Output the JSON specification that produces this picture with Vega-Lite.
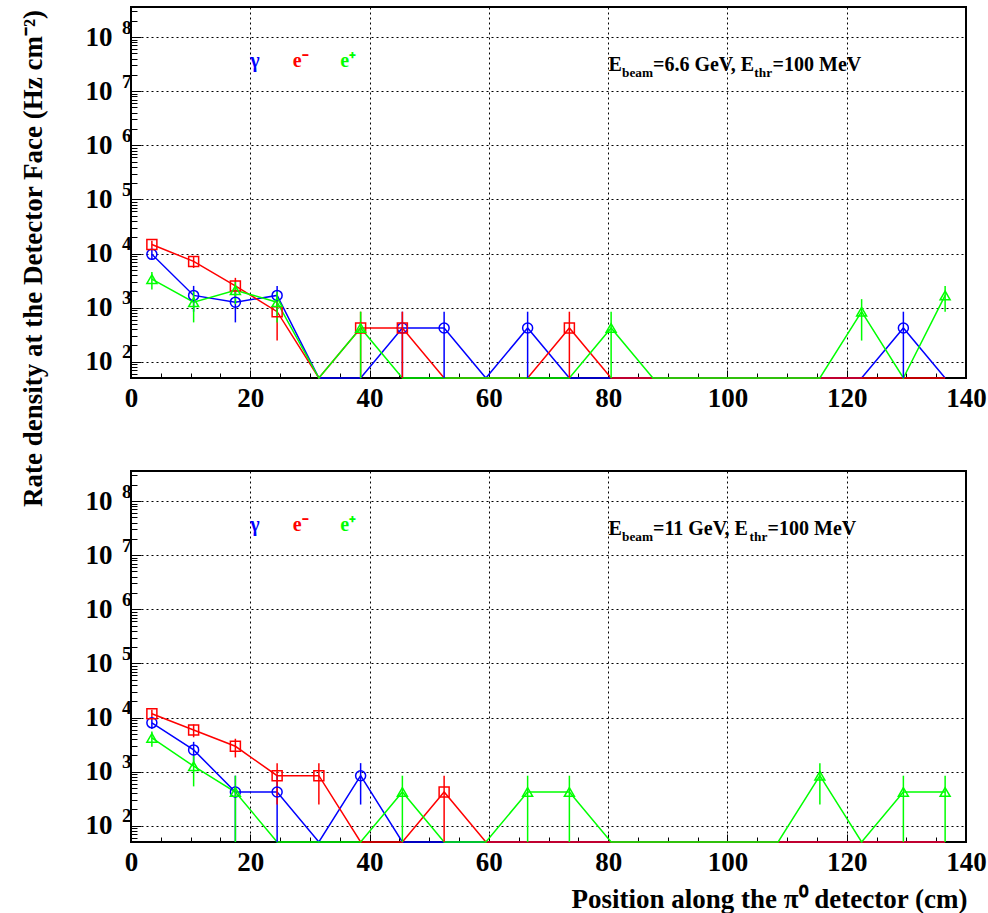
{
  "$schema": "https://vega.github.io/schema/vega-lite/v6.json",
  "autosize": {"type": "none"},
  "padding": {"left": 131, "top": 7, "right": 857, "bottom": 906},
  "bounds": "flush",
  "spacing": 93,
  "config": {
    "view": {"stroke": "#000000", "strokeWidth": 2},
    "font": "Liberation Serif"
  },
  "datasets": {
    "rates": [
      {"beam":"6.6","particle":"γ","position":3.5,"rate":9660,"low":7646,"high":11674},
      {"beam":"6.6","particle":"γ","position":10.5,"rate":1680,"low":840,"high":2520},
      {"beam":"6.6","particle":"γ","position":17.5,"rate":1260,"low":533,"high":1987},
      {"beam":"6.6","particle":"γ","position":24.5,"rate":1680,"low":840,"high":2520},
      {"beam":"6.6","particle":"γ","position":31.5,"rate":0},
      {"beam":"6.6","particle":"γ","position":38.5,"rate":0},
      {"beam":"6.6","particle":"γ","position":45.5,"rate":420,"low":0,"high":840},
      {"beam":"6.6","particle":"γ","position":52.5,"rate":420,"low":0,"high":840},
      {"beam":"6.6","particle":"γ","position":59.5,"rate":0},
      {"beam":"6.6","particle":"γ","position":66.5,"rate":420,"low":0,"high":840},
      {"beam":"6.6","particle":"γ","position":73.5,"rate":0},
      {"beam":"6.6","particle":"γ","position":80.5,"rate":0},
      {"beam":"6.6","particle":"γ","position":87.5,"rate":0},
      {"beam":"6.6","particle":"γ","position":94.5,"rate":0},
      {"beam":"6.6","particle":"γ","position":101.5,"rate":0},
      {"beam":"6.6","particle":"γ","position":108.5,"rate":0},
      {"beam":"6.6","particle":"γ","position":115.5,"rate":0},
      {"beam":"6.6","particle":"γ","position":122.5,"rate":0},
      {"beam":"6.6","particle":"γ","position":129.5,"rate":420,"low":0,"high":840},
      {"beam":"6.6","particle":"γ","position":136.5,"rate":0},
      {"beam":"6.6","particle":"e-","position":3.5,"rate":14700,"low":12215,"high":17185},
      {"beam":"6.6","particle":"e-","position":10.5,"rate":7140,"low":5408,"high":8872},
      {"beam":"6.6","particle":"e-","position":17.5,"rate":2520,"low":1491,"high":3549},
      {"beam":"6.6","particle":"e-","position":24.5,"rate":840,"low":246,"high":1434},
      {"beam":"6.6","particle":"e-","position":31.5,"rate":0},
      {"beam":"6.6","particle":"e-","position":38.5,"rate":420,"low":0,"high":840},
      {"beam":"6.6","particle":"e-","position":45.5,"rate":420,"low":0,"high":840},
      {"beam":"6.6","particle":"e-","position":52.5,"rate":0},
      {"beam":"6.6","particle":"e-","position":59.5,"rate":0},
      {"beam":"6.6","particle":"e-","position":66.5,"rate":0},
      {"beam":"6.6","particle":"e-","position":73.5,"rate":420,"low":0,"high":840},
      {"beam":"6.6","particle":"e-","position":80.5,"rate":0},
      {"beam":"6.6","particle":"e-","position":87.5,"rate":0},
      {"beam":"6.6","particle":"e-","position":94.5,"rate":0},
      {"beam":"6.6","particle":"e-","position":101.5,"rate":0},
      {"beam":"6.6","particle":"e-","position":108.5,"rate":0},
      {"beam":"6.6","particle":"e-","position":115.5,"rate":0},
      {"beam":"6.6","particle":"e-","position":122.5,"rate":0},
      {"beam":"6.6","particle":"e-","position":129.5,"rate":0},
      {"beam":"6.6","particle":"e-","position":136.5,"rate":0},
      {"beam":"6.6","particle":"e+","position":3.5,"rate":3360,"low":2172,"high":4548},
      {"beam":"6.6","particle":"e+","position":10.5,"rate":1260,"low":533,"high":1987},
      {"beam":"6.6","particle":"e+","position":17.5,"rate":2100,"low":1161,"high":3039},
      {"beam":"6.6","particle":"e+","position":24.5,"rate":1260,"low":533,"high":1987},
      {"beam":"6.6","particle":"e+","position":31.5,"rate":0},
      {"beam":"6.6","particle":"e+","position":38.5,"rate":420,"low":0,"high":840},
      {"beam":"6.6","particle":"e+","position":45.5,"rate":0},
      {"beam":"6.6","particle":"e+","position":52.5,"rate":0},
      {"beam":"6.6","particle":"e+","position":59.5,"rate":0},
      {"beam":"6.6","particle":"e+","position":66.5,"rate":0},
      {"beam":"6.6","particle":"e+","position":73.5,"rate":0},
      {"beam":"6.6","particle":"e+","position":80.5,"rate":420,"low":0,"high":840},
      {"beam":"6.6","particle":"e+","position":87.5,"rate":0},
      {"beam":"6.6","particle":"e+","position":94.5,"rate":0},
      {"beam":"6.6","particle":"e+","position":101.5,"rate":0},
      {"beam":"6.6","particle":"e+","position":108.5,"rate":0},
      {"beam":"6.6","particle":"e+","position":115.5,"rate":0},
      {"beam":"6.6","particle":"e+","position":122.5,"rate":840,"low":246,"high":1434},
      {"beam":"6.6","particle":"e+","position":129.5,"rate":0},
      {"beam":"6.6","particle":"e+","position":136.5,"rate":1680,"low":840,"high":2520},
      {"beam":"11","particle":"γ","position":3.5,"rate":7980,"low":6149,"high":9811},
      {"beam":"11","particle":"γ","position":10.5,"rate":2520,"low":1491,"high":3549},
      {"beam":"11","particle":"γ","position":17.5,"rate":420,"low":0,"high":840},
      {"beam":"11","particle":"γ","position":24.5,"rate":420,"low":0,"high":840},
      {"beam":"11","particle":"γ","position":31.5,"rate":0},
      {"beam":"11","particle":"γ","position":38.5,"rate":840,"low":246,"high":1434},
      {"beam":"11","particle":"γ","position":45.5,"rate":0},
      {"beam":"11","particle":"γ","position":52.5,"rate":0},
      {"beam":"11","particle":"γ","position":59.5,"rate":0},
      {"beam":"11","particle":"γ","position":66.5,"rate":0},
      {"beam":"11","particle":"γ","position":73.5,"rate":0},
      {"beam":"11","particle":"γ","position":80.5,"rate":0},
      {"beam":"11","particle":"γ","position":87.5,"rate":0},
      {"beam":"11","particle":"γ","position":94.5,"rate":0},
      {"beam":"11","particle":"γ","position":101.5,"rate":0},
      {"beam":"11","particle":"γ","position":108.5,"rate":0},
      {"beam":"11","particle":"γ","position":115.5,"rate":0},
      {"beam":"11","particle":"γ","position":122.5,"rate":0},
      {"beam":"11","particle":"γ","position":129.5,"rate":0},
      {"beam":"11","particle":"γ","position":136.5,"rate":0},
      {"beam":"11","particle":"e-","position":3.5,"rate":11760,"low":9537,"high":13983},
      {"beam":"11","particle":"e-","position":10.5,"rate":5880,"low":4308,"high":7452},
      {"beam":"11","particle":"e-","position":17.5,"rate":2940,"low":1829,"high":4051},
      {"beam":"11","particle":"e-","position":24.5,"rate":840,"low":246,"high":1434},
      {"beam":"11","particle":"e-","position":31.5,"rate":840,"low":246,"high":1434},
      {"beam":"11","particle":"e-","position":38.5,"rate":0},
      {"beam":"11","particle":"e-","position":45.5,"rate":0},
      {"beam":"11","particle":"e-","position":52.5,"rate":420,"low":0,"high":840},
      {"beam":"11","particle":"e-","position":59.5,"rate":0},
      {"beam":"11","particle":"e-","position":66.5,"rate":0},
      {"beam":"11","particle":"e-","position":73.5,"rate":0},
      {"beam":"11","particle":"e-","position":80.5,"rate":0},
      {"beam":"11","particle":"e-","position":87.5,"rate":0},
      {"beam":"11","particle":"e-","position":94.5,"rate":0},
      {"beam":"11","particle":"e-","position":101.5,"rate":0},
      {"beam":"11","particle":"e-","position":108.5,"rate":0},
      {"beam":"11","particle":"e-","position":115.5,"rate":0},
      {"beam":"11","particle":"e-","position":122.5,"rate":0},
      {"beam":"11","particle":"e-","position":129.5,"rate":0},
      {"beam":"11","particle":"e-","position":136.5,"rate":0},
      {"beam":"11","particle":"e+","position":3.5,"rate":4200,"low":2872,"high":5528},
      {"beam":"11","particle":"e+","position":10.5,"rate":1260,"low":533,"high":1987},
      {"beam":"11","particle":"e+","position":17.5,"rate":420,"low":0,"high":840},
      {"beam":"11","particle":"e+","position":24.5,"rate":0},
      {"beam":"11","particle":"e+","position":31.5,"rate":0},
      {"beam":"11","particle":"e+","position":38.5,"rate":0},
      {"beam":"11","particle":"e+","position":45.5,"rate":420,"low":0,"high":840},
      {"beam":"11","particle":"e+","position":52.5,"rate":0},
      {"beam":"11","particle":"e+","position":59.5,"rate":0},
      {"beam":"11","particle":"e+","position":66.5,"rate":420,"low":0,"high":840},
      {"beam":"11","particle":"e+","position":73.5,"rate":420,"low":0,"high":840},
      {"beam":"11","particle":"e+","position":80.5,"rate":0},
      {"beam":"11","particle":"e+","position":87.5,"rate":0},
      {"beam":"11","particle":"e+","position":94.5,"rate":0},
      {"beam":"11","particle":"e+","position":101.5,"rate":0},
      {"beam":"11","particle":"e+","position":108.5,"rate":0},
      {"beam":"11","particle":"e+","position":115.5,"rate":840,"low":246,"high":1434},
      {"beam":"11","particle":"e+","position":122.5,"rate":0},
      {"beam":"11","particle":"e+","position":129.5,"rate":420,"low":0,"high":840},
      {"beam":"11","particle":"e+","position":136.5,"rate":420,"low":0,"high":840}
    ]
  },
  "vconcat": [
    {
      "width": 835, "height": 371,
      "resolve": {"axis": {"x": "independent", "y": "independent"}},
      "layer": [
        {
          "data": {"name": "rates"},
          "transform": [{"filter": "datum.beam == '6.6'"}],
          "mark": {"type": "line", "strokeWidth": 1.5},
          "encoding": {
            "x": {"field": "position", "type": "quantitative", "scale": {"domain": [0, 140], "nice": false, "zero": false},
              "axis": {"orient": "bottom", "values": [0, 20, 40, 60, 80, 100, 120, 140], "format": "d", "ticks": false, "domain": false, "grid": true, "gridColor": "#000000", "gridDash": [2, 3], "gridWidth": 1, "gridOpacity": 1, "labelFont": "Liberation Serif", "labelFontWeight": "bold", "labelFontSize": 27, "labelColor": "#000000", "labelPadding": 7, "labelFlush": false, "labelOverlap": false, "title": null}},
            "y": {"field": "rate", "type": "quantitative", "scale": {"type": "log", "domain": [50, 360000000], "nice": false, "clamp": true},
              "axis": {"orient": "left", "values": [100, 1000, 10000, 100000, 1000000, 10000000, 100000000], "labelExpr": "'10'", "ticks": false, "domain": false, "grid": true, "gridColor": "#000000", "gridDash": [2, 3], "gridWidth": 1, "gridOpacity": 1, "labelFont": "Liberation Serif", "labelFontWeight": "bold", "labelFontSize": 27, "labelColor": "#000000", "labelPadding": 19, "labelOverlap": false, "labelFlush": false,
                "title": "Rate density at the Detector Face (Hz cm⁻²)", "titleFont": "Liberation Serif", "titleFontWeight": "bold", "titleFontSize": 27, "titleColor": "#000000", "titleX": -98, "titleY": 251, "titleAngle": -90, "titleAlign": "center", "titleBaseline": "middle"}},
            "color": {"field": "particle", "type": "nominal", "scale": {"domain": ["γ", "e-", "e+"], "range": ["#0000ff", "#ff0000", "#00ff00"]}, "legend": null}
          }
        },
        {
          "data": {"name": "rates"},
          "transform": [{"filter": "datum.beam == '6.6'"}, {"filter": "datum.high > 0"}],
          "mark": {"type": "rule", "strokeWidth": 1.5},
          "encoding": {
            "x": {"field": "position", "type": "quantitative", "scale": {"domain": [0, 140], "nice": false, "zero": false},
              "axis": {"orient": "bottom", "values": [20, 40, 60, 80, 100, 120], "labels": false, "ticks": true, "tickSize": -8, "tickColor": "#000000", "tickWidth": 1, "domain": false, "grid": false, "title": null}},
            "y": {"field": "low", "type": "quantitative", "scale": {"type": "log", "domain": [50, 360000000], "nice": false, "clamp": true},
              "axis": {"orient": "left", "values": [100, 1000, 10000, 100000, 1000000, 10000000, 100000000], "labels": false, "ticks": true, "tickSize": -10, "tickColor": "#000000", "tickWidth": 1, "domain": false, "grid": false, "title": null}},
            "y2": {"field": "high"},
            "color": {"field": "particle", "type": "nominal", "scale": {"domain": ["γ", "e-", "e+"], "range": ["#0000ff", "#ff0000", "#00ff00"]}, "legend": null}
          }
        },
        {
          "data": {"name": "rates"},
          "transform": [{"filter": "datum.beam == '6.6'"}, {"filter": "datum.rate > 0"}],
          "mark": {"type": "point", "filled": false, "strokeWidth": 1.5, "size": 100, "opacity": 1},
          "encoding": {
            "x": {"field": "position", "type": "quantitative", "scale": {"domain": [0, 140], "nice": false, "zero": false},
              "axis": {"orient": "bottom", "values": [5, 10, 15, 25, 30, 35, 45, 50, 55, 65, 70, 75, 85, 90, 95, 105, 110, 115, 125, 130, 135], "labels": false, "ticks": true, "tickSize": -5, "tickColor": "#000000", "tickWidth": 1, "domain": false, "grid": false, "title": null}},
            "y": {"field": "rate", "type": "quantitative", "scale": {"type": "log", "domain": [50, 360000000], "nice": false, "clamp": true},
              "axis": {"orient": "left", "values": [60, 70, 80, 90, 200, 300, 400, 500, 600, 700, 800, 900, 2000, 3000, 4000, 5000, 6000, 7000, 8000, 9000, 20000, 30000, 40000, 50000, 60000, 70000, 80000, 90000, 200000, 300000, 400000, 500000, 600000, 700000, 800000, 900000, 2000000, 3000000, 4000000, 5000000, 6000000, 7000000, 8000000, 9000000, 20000000, 30000000, 40000000, 50000000, 60000000, 70000000, 80000000, 90000000, 200000000, 300000000], "labels": false, "ticks": true, "tickSize": -6, "tickColor": "#000000", "tickWidth": 1, "domain": false, "grid": false, "title": null}},
            "color": {"field": "particle", "type": "nominal", "scale": {"domain": ["γ", "e-", "e+"], "range": ["#0000ff", "#ff0000", "#00ff00"]}, "legend": null},
            "shape": {"field": "particle", "type": "nominal", "scale": {"domain": ["γ", "e-", "e+"], "range": ["circle", "square", "triangle-up"]}, "legend": null}
          }
        },
        {
          "data": {"values": [{}]},
          "mark": {"type": "text", "text": "γ", "align": "left", "baseline": "alphabetic", "font": "Liberation Serif", "fontWeight": "bold", "fontSize": 20, "color": "#0000ff"},
          "encoding": {
            "x": {"datum": 20.0, "type": "quantitative", "scale": {"domain": [0, 140], "nice": false, "zero": false}, "axis": null},
            "y": {"datum": 28500000, "type": "quantitative", "scale": {"type": "log", "domain": [50, 360000000], "nice": false, "clamp": true},
              "axis": {"orient": "left", "values": [100, 1000, 10000, 100000, 1000000, 10000000, 100000000], "labelExpr": "'' + round(log(datum.value) / LN10)", "ticks": false, "domain": false, "grid": false, "labelFont": "Liberation Serif", "labelFontWeight": "bold", "labelFontSize": 19, "labelColor": "#000000", "labelPadding": 0, "labelOffset": -10, "labelOverlap": false, "labelFlush": false, "title": null}}
          }
        },
        {
          "data": {"values": [{}]},
          "mark": {"type": "text", "text": "e⁻", "align": "left", "baseline": "alphabetic", "font": "Liberation Serif", "fontWeight": "bold", "fontSize": 20, "color": "#ff0000"},
          "encoding": {
            "x": {"datum": 27.1, "type": "quantitative", "axis": null},
            "y": {"datum": 28500000, "type": "quantitative", "axis": null}
          }
        },
        {
          "data": {"values": [{}]},
          "mark": {"type": "text", "text": "e⁺", "align": "left", "baseline": "alphabetic", "font": "Liberation Serif", "fontWeight": "bold", "fontSize": 20, "color": "#00ff00"},
          "encoding": {
            "x": {"datum": 35.1, "type": "quantitative", "axis": null},
            "y": {"datum": 28500000, "type": "quantitative", "axis": null}
          }
        },
        {
          "data": {"values": [{}]},
          "mark": {"type": "text", "text": "E", "align": "left", "baseline": "alphabetic", "font": "Liberation Serif", "fontWeight": "bold", "fontSize": 20, "color": "#000000"},
          "encoding": {"x": {"datum": 80.08, "type": "quantitative", "axis": null}, "y": {"datum": 23500000, "type": "quantitative", "axis": null}}
        },
        {
          "data": {"values": [{}]},
          "mark": {"type": "text", "text": "beam", "align": "left", "baseline": "alphabetic", "font": "Liberation Serif", "fontWeight": "bold", "fontSize": 13.3, "color": "#000000", "dx": 13.4, "dy": 5.7},
          "encoding": {"x": {"datum": 80.08, "type": "quantitative", "axis": null}, "y": {"datum": 23500000, "type": "quantitative", "axis": null}}
        },
        {
          "data": {"values": [{}]},
          "mark": {"type": "text", "text": "=6.6 GeV, E", "align": "left", "baseline": "alphabetic", "font": "Liberation Serif", "fontWeight": "bold", "fontSize": 20, "color": "#000000", "dx": 44.4},
          "encoding": {"x": {"datum": 80.08, "type": "quantitative", "axis": null}, "y": {"datum": 23500000, "type": "quantitative", "axis": null}}
        },
        {
          "data": {"values": [{}]},
          "mark": {"type": "text", "text": "thr", "align": "left", "baseline": "alphabetic", "font": "Liberation Serif", "fontWeight": "bold", "fontSize": 13.3, "color": "#000000", "dx": 145.7, "dy": 5.7},
          "encoding": {"x": {"datum": 80.08, "type": "quantitative", "axis": null}, "y": {"datum": 23500000, "type": "quantitative", "axis": null}}
        },
        {
          "data": {"values": [{}]},
          "mark": {"type": "text", "text": "=100 MeV", "align": "left", "baseline": "alphabetic", "font": "Liberation Serif", "fontWeight": "bold", "fontSize": 20, "color": "#000000", "dx": 164},
          "encoding": {"x": {"datum": 80.08, "type": "quantitative", "axis": null}, "y": {"datum": 23500000, "type": "quantitative", "axis": null}}
        }
      ]
    },
    {
      "width": 835, "height": 371,
      "resolve": {"axis": {"x": "independent", "y": "independent"}},
      "layer": [
        {
          "data": {"name": "rates"},
          "transform": [{"filter": "datum.beam == '11'"}],
          "mark": {"type": "line", "strokeWidth": 1.5},
          "encoding": {
            "x": {"field": "position", "type": "quantitative", "scale": {"domain": [0, 140], "nice": false, "zero": false},
              "axis": {"orient": "bottom", "values": [0, 20, 40, 60, 80, 100, 120, 140], "format": "d", "ticks": false, "domain": false, "grid": true, "gridColor": "#000000", "gridDash": [2, 3], "gridWidth": 1, "gridOpacity": 1, "labelFont": "Liberation Serif", "labelFontWeight": "bold", "labelFontSize": 27, "labelColor": "#000000", "labelPadding": 7, "labelFlush": false, "labelOverlap": false,
                "title": "Position along the π⁰ detector (cm)", "titleFont": "Liberation Serif", "titleFontWeight": "bold", "titleFontSize": 27, "titleColor": "#000000", "titleX": 836, "titleY": 65, "titleAlign": "right", "titleBaseline": "alphabetic"}},
            "y": {"field": "rate", "type": "quantitative", "scale": {"type": "log", "domain": [50, 360000000], "nice": false, "clamp": true},
              "axis": {"orient": "left", "values": [100, 1000, 10000, 100000, 1000000, 10000000, 100000000], "labelExpr": "'10'", "ticks": false, "domain": false, "grid": true, "gridColor": "#000000", "gridDash": [2, 3], "gridWidth": 1, "gridOpacity": 1, "labelFont": "Liberation Serif", "labelFontWeight": "bold", "labelFontSize": 27, "labelColor": "#000000", "labelPadding": 19, "labelOverlap": false, "labelFlush": false, "title": null}},
            "color": {"field": "particle", "type": "nominal", "scale": {"domain": ["γ", "e-", "e+"], "range": ["#0000ff", "#ff0000", "#00ff00"]}, "legend": null}
          }
        },
        {
          "data": {"name": "rates"},
          "transform": [{"filter": "datum.beam == '11'"}, {"filter": "datum.high > 0"}],
          "mark": {"type": "rule", "strokeWidth": 1.5},
          "encoding": {
            "x": {"field": "position", "type": "quantitative", "scale": {"domain": [0, 140], "nice": false, "zero": false},
              "axis": {"orient": "bottom", "values": [20, 40, 60, 80, 100, 120], "labels": false, "ticks": true, "tickSize": -8, "tickColor": "#000000", "tickWidth": 1, "domain": false, "grid": false, "title": null}},
            "y": {"field": "low", "type": "quantitative", "scale": {"type": "log", "domain": [50, 360000000], "nice": false, "clamp": true},
              "axis": {"orient": "left", "values": [100, 1000, 10000, 100000, 1000000, 10000000, 100000000], "labels": false, "ticks": true, "tickSize": -10, "tickColor": "#000000", "tickWidth": 1, "domain": false, "grid": false, "title": null}},
            "y2": {"field": "high"},
            "color": {"field": "particle", "type": "nominal", "scale": {"domain": ["γ", "e-", "e+"], "range": ["#0000ff", "#ff0000", "#00ff00"]}, "legend": null}
          }
        },
        {
          "data": {"name": "rates"},
          "transform": [{"filter": "datum.beam == '11'"}, {"filter": "datum.rate > 0"}],
          "mark": {"type": "point", "filled": false, "strokeWidth": 1.5, "size": 100, "opacity": 1},
          "encoding": {
            "x": {"field": "position", "type": "quantitative", "scale": {"domain": [0, 140], "nice": false, "zero": false},
              "axis": {"orient": "bottom", "values": [5, 10, 15, 25, 30, 35, 45, 50, 55, 65, 70, 75, 85, 90, 95, 105, 110, 115, 125, 130, 135], "labels": false, "ticks": true, "tickSize": -5, "tickColor": "#000000", "tickWidth": 1, "domain": false, "grid": false, "title": null}},
            "y": {"field": "rate", "type": "quantitative", "scale": {"type": "log", "domain": [50, 360000000], "nice": false, "clamp": true},
              "axis": {"orient": "left", "values": [60, 70, 80, 90, 200, 300, 400, 500, 600, 700, 800, 900, 2000, 3000, 4000, 5000, 6000, 7000, 8000, 9000, 20000, 30000, 40000, 50000, 60000, 70000, 80000, 90000, 200000, 300000, 400000, 500000, 600000, 700000, 800000, 900000, 2000000, 3000000, 4000000, 5000000, 6000000, 7000000, 8000000, 9000000, 20000000, 30000000, 40000000, 50000000, 60000000, 70000000, 80000000, 90000000, 200000000, 300000000], "labels": false, "ticks": true, "tickSize": -6, "tickColor": "#000000", "tickWidth": 1, "domain": false, "grid": false, "title": null}},
            "color": {"field": "particle", "type": "nominal", "scale": {"domain": ["γ", "e-", "e+"], "range": ["#0000ff", "#ff0000", "#00ff00"]}, "legend": null},
            "shape": {"field": "particle", "type": "nominal", "scale": {"domain": ["γ", "e-", "e+"], "range": ["circle", "square", "triangle-up"]}, "legend": null}
          }
        },
        {
          "data": {"values": [{}]},
          "mark": {"type": "text", "text": "γ", "align": "left", "baseline": "alphabetic", "font": "Liberation Serif", "fontWeight": "bold", "fontSize": 20, "color": "#0000ff"},
          "encoding": {
            "x": {"datum": 20.0, "type": "quantitative", "scale": {"domain": [0, 140], "nice": false, "zero": false}, "axis": null},
            "y": {"datum": 28500000, "type": "quantitative", "scale": {"type": "log", "domain": [50, 360000000], "nice": false, "clamp": true},
              "axis": {"orient": "left", "values": [100, 1000, 10000, 100000, 1000000, 10000000, 100000000], "labelExpr": "'' + round(log(datum.value) / LN10)", "ticks": false, "domain": false, "grid": false, "labelFont": "Liberation Serif", "labelFontWeight": "bold", "labelFontSize": 19, "labelColor": "#000000", "labelPadding": 0, "labelOffset": -10, "labelOverlap": false, "labelFlush": false, "title": null}}
          }
        },
        {
          "data": {"values": [{}]},
          "mark": {"type": "text", "text": "e⁻", "align": "left", "baseline": "alphabetic", "font": "Liberation Serif", "fontWeight": "bold", "fontSize": 20, "color": "#ff0000"},
          "encoding": {
            "x": {"datum": 27.1, "type": "quantitative", "axis": null},
            "y": {"datum": 28500000, "type": "quantitative", "axis": null}
          }
        },
        {
          "data": {"values": [{}]},
          "mark": {"type": "text", "text": "e⁺", "align": "left", "baseline": "alphabetic", "font": "Liberation Serif", "fontWeight": "bold", "fontSize": 20, "color": "#00ff00"},
          "encoding": {
            "x": {"datum": 35.1, "type": "quantitative", "axis": null},
            "y": {"datum": 28500000, "type": "quantitative", "axis": null}
          }
        },
        {
          "data": {"values": [{}]},
          "mark": {"type": "text", "text": "E", "align": "left", "baseline": "alphabetic", "font": "Liberation Serif", "fontWeight": "bold", "fontSize": 20, "color": "#000000"},
          "encoding": {"x": {"datum": 80.08, "type": "quantitative", "axis": null}, "y": {"datum": 23500000, "type": "quantitative", "axis": null}}
        },
        {
          "data": {"values": [{}]},
          "mark": {"type": "text", "text": "beam", "align": "left", "baseline": "alphabetic", "font": "Liberation Serif", "fontWeight": "bold", "fontSize": 13.3, "color": "#000000", "dx": 13.4, "dy": 5.7},
          "encoding": {"x": {"datum": 80.08, "type": "quantitative", "axis": null}, "y": {"datum": 23500000, "type": "quantitative", "axis": null}}
        },
        {
          "data": {"values": [{}]},
          "mark": {"type": "text", "text": "=11 GeV, E", "align": "left", "baseline": "alphabetic", "font": "Liberation Serif", "fontWeight": "bold", "fontSize": 20, "color": "#000000", "dx": 44.4},
          "encoding": {"x": {"datum": 80.08, "type": "quantitative", "axis": null}, "y": {"datum": 23500000, "type": "quantitative", "axis": null}}
        },
        {
          "data": {"values": [{}]},
          "mark": {"type": "text", "text": "thr", "align": "left", "baseline": "alphabetic", "font": "Liberation Serif", "fontWeight": "bold", "fontSize": 13.3, "color": "#000000", "dx": 141, "dy": 5.7},
          "encoding": {"x": {"datum": 80.08, "type": "quantitative", "axis": null}, "y": {"datum": 23500000, "type": "quantitative", "axis": null}}
        },
        {
          "data": {"values": [{}]},
          "mark": {"type": "text", "text": "=100 MeV", "align": "left", "baseline": "alphabetic", "font": "Liberation Serif", "fontWeight": "bold", "fontSize": 20, "color": "#000000", "dx": 159},
          "encoding": {"x": {"datum": 80.08, "type": "quantitative", "axis": null}, "y": {"datum": 23500000, "type": "quantitative", "axis": null}}
        }
      ]
    }
  ]
}
